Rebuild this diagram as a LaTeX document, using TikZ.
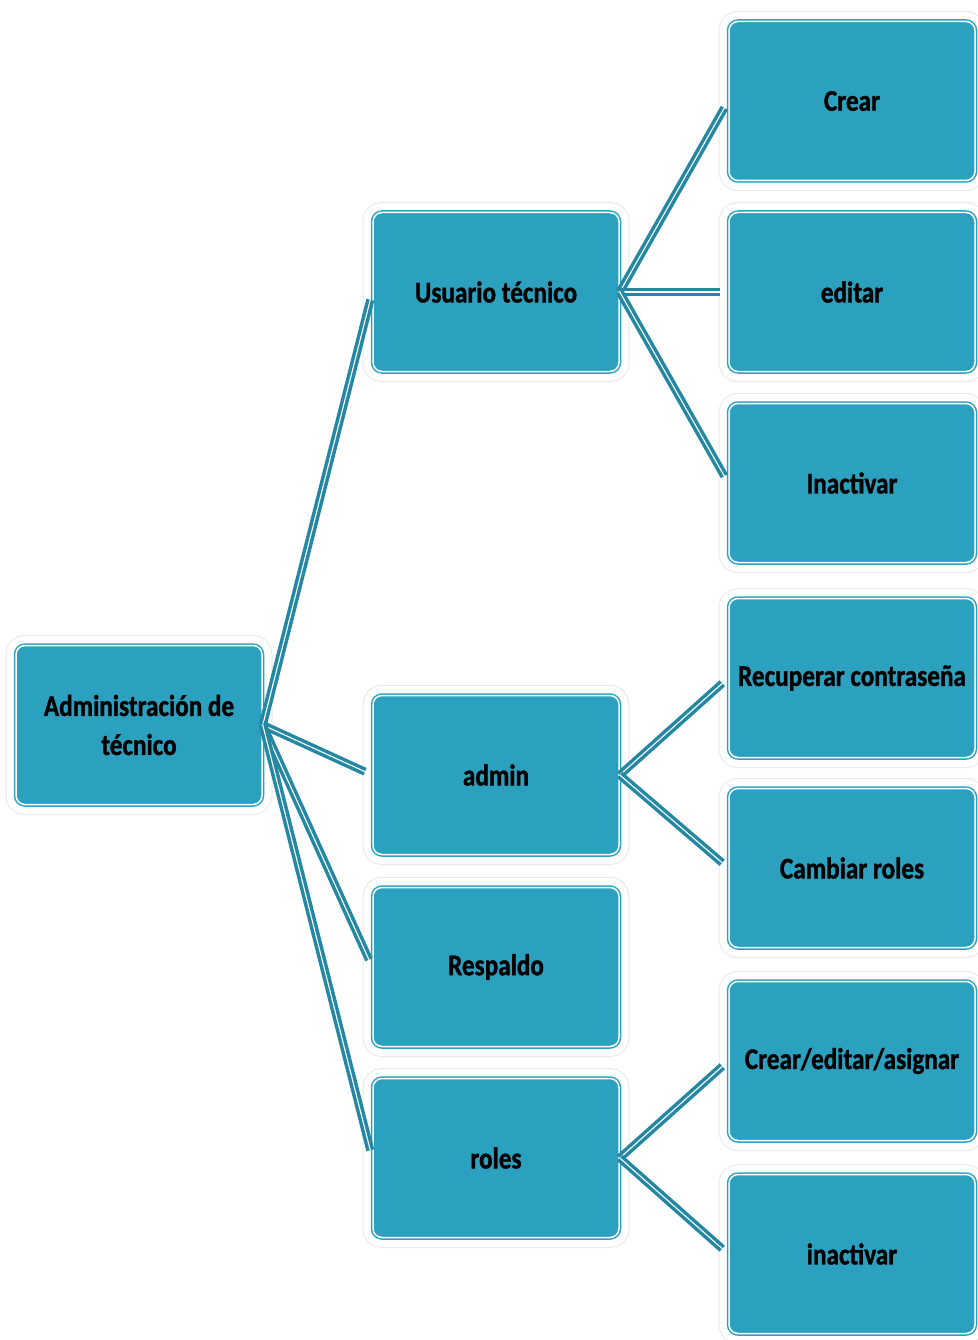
\documentclass[tikz,border=0pt]{standalone}
\usepackage{fontspec}
\newfontfamily\cajafont[FakeStretch=0.84,BoldFeatures={FakeBold=1.2}]{Carlito}
\usetikzlibrary{positioning}
\definecolor{cajaC}{RGB}{44,161,191}
\definecolor{ramaC}{RGB}{36,136,162}

\begin{document}
\begin{tikzpicture}
  [x=1pt,y=-1pt,
   caja/.style={rectangle,rounded corners=9pt,fill=cajaC,draw=cajaC,line width=1.5pt,
     double=white,double distance=1.5pt,minimum width=246pt,minimum height=159pt,
     font=\cajafont\bfseries\fontsize{30}{39}\selectfont,align=center,
     preaction={draw=black!9,line width=21pt},preaction={draw=white,line width=19pt}},
   rama/.style={draw=ramaC,line width=3.5pt,double=white,double distance=1.1pt,shorten >=8pt}]

  \useasboundingbox (0,0) rectangle (977,1340);

  \node[caja] (root) at (139,725) {Administración de\\técnico};

  \node[caja] (usr) at (496,292) {Usuario técnico};
  \node[caja] (adm) at (496,775) {admin};
  \node[caja] (resp) at (496,967) {Respaldo};
  \node[caja] (rol) at (496,1158) {roles};

  \node[caja] (crear) at (852,101) {Crear};
  \node[caja] (editar) at (852,292) {editar};
  \node[caja] (inact) at (852,483) {Inactivar};
  \node[caja] (recup) at (852,678) {Recuperar contraseña};
  \node[caja] (camb) at (852,868) {Cambiar roles};
  \node[caja] (cea) at (852,1061) {Crear/editar/asignar};
  \node[caja] (inac) at (852,1254) {inactivar};

  \draw[rama] (root.east) -- (usr.west);
  \draw[rama] (root.east) -- (adm.west);
  \draw[rama] (root.east) -- (resp.west);
  \draw[rama] (root.east) -- (rol.west);

  \draw[rama] (usr.east) -- (crear.west);
  \draw[rama] (usr.east) -- (editar.west);
  \draw[rama] (usr.east) -- (inact.west);
  \draw[rama] (adm.east) -- (recup.west);
  \draw[rama] (adm.east) -- (camb.west);
  \draw[rama] (rol.east) -- (cea.west);
  \draw[rama] (rol.east) -- (inac.west);
\end{tikzpicture}
\end{document}
